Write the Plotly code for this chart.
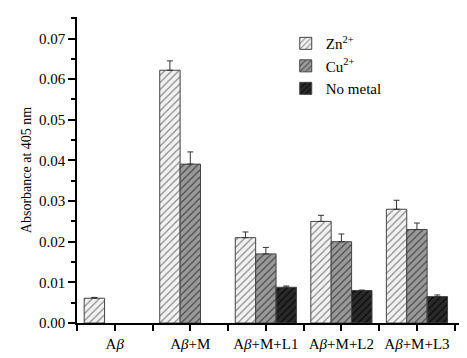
import plotly.graph_objects as go

categories = ["A<i>β</i>", "A<i>β</i>+M", "A<i>β</i>+M+L1", "A<i>β</i>+M+L2", "A<i>β</i>+M+L3"]
zn_vals = [0.0061, 0.0622, 0.0210, 0.0250, 0.0280]
zn_err = [0.0002, 0.0023, 0.0014, 0.0015, 0.0022]
cu_vals = [None, 0.0391, 0.0170, 0.0200, 0.0230]
cu_err = [0, 0.0030, 0.0016, 0.0019, 0.0016]
nm_vals = [None, None, 0.0088, 0.0080, 0.0065]
nm_err = [0, 0, 0.0003, 0.0001, 0.0004]
series_names = ["Zn<sup>2+</sup>", "Cu<sup>2+</sup>", "No metal"]

xpos = list(range(len(categories)))
font_family = "Liberation Serif, Times New Roman, serif"

styles = [
    dict(bg="#f2f2f2", fg="#8a8a8a"),
    dict(bg="#9a9a9a", fg="#4a4a4a"),
    dict(bg="#2a2a2a", fg="#0a0a0a"),
]

fig = go.Figure()
for name, vals, errs, st in zip(series_names, [zn_vals, cu_vals, nm_vals], [zn_err, cu_err, nm_err], styles):
    fig.add_trace(go.Bar(
        x=xpos, y=vals, name=name,
        marker=dict(
            color=st["bg"],
            line=dict(color="#444444", width=1),
            pattern=dict(shape="/", fgcolor=st["fg"], bgcolor=st["bg"], size=5, solidity=0.25, fillmode="replace"),
        ),
        error_y=dict(type="data", symmetric=False, array=errs, arrayminus=[0] * len(errs),
                     color="#333333", thickness=1, width=3),
    ))

# the page body adds an 8px offset; compensate so the plot area lands where the reference has it
fig.update_layout(
    width=459, height=350,
    margin=dict(l=69, r=7, t=9, b=35),
    paper_bgcolor="white", plot_bgcolor="white",
    barmode="group", bargap=0.19, bargroupgap=0,
    font=dict(family=font_family, size=15, color="black"),
    showlegend=True,
    legend=dict(x=0.545, y=0.967, xanchor="left", yanchor="top",
                bgcolor="rgba(0,0,0,0)", font=dict(size=15, family=font_family),
                tracegroupgap=5, itemwidth=30),
)
fig.update_xaxes(
    range=[-0.5, 4.57], tickmode="array", tickvals=xpos, ticktext=categories,
    showline=True, linecolor="black", linewidth=1.5,
    ticks="outside", ticklen=6, tickwidth=1.5, tickcolor="black",
    minor=dict(tickvals=[-0.5, 0.5, 1.5, 2.5, 3.5, 4.5], ticks="outside", ticklen=6, tickwidth=1.5, tickcolor="black"),
    showgrid=False, zeroline=False,
    tickfont=dict(size=15, family=font_family),
)
fig.update_yaxes(
    range=[0, 0.0753], dtick=0.01, tick0=0, tickformat=".2f",
    showline=True, linecolor="black", linewidth=1.5,
    ticks="outside", ticklen=7, tickwidth=1.5, tickcolor="black",
    minor=dict(dtick=0.005, ticks="outside", ticklen=4, tickwidth=1.5, tickcolor="black"),
    showgrid=False, zeroline=False,
    title=dict(text="Absorbance at 405 nm", font=dict(size=14, family=font_family), standoff=4),
    tickfont=dict(size=15, family=font_family),
)

fig.write_html("out.html")
